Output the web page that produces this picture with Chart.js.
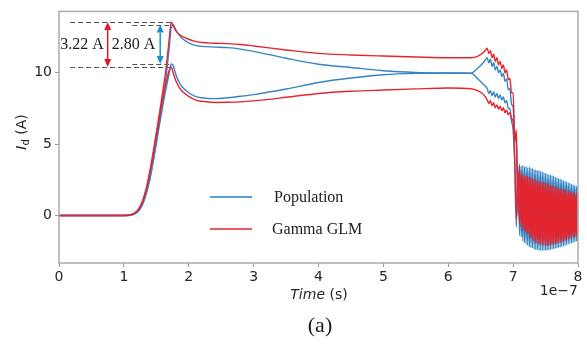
<!DOCTYPE html>
<html>
<head>
<meta charset="utf-8">
<script src="https://cdn.jsdelivr.net/npm/chart.js@4.4.1/dist/chart.umd.min.js"></script>
<style>
  html, body { margin: 0; padding: 0; background: #fff; }
  canvas { display: block; }
</style>
</head>
<body>
<canvas id="chart-id" width="587" height="347"></canvas>
<script>
// Tempo (unidades de 1e-7 s)
const tempo = [
  0, 0.5, 1.0, 1.1, 1.2, 1.25, 1.3, 1.35, 1.4, 1.45, 1.5, 1.55, 1.6, 1.65, 1.7, 1.73, 1.76, 1.8,
  1.85, 1.9, 2.0, 2.1, 2.2, 2.4, 2.6, 2.8, 3.0, 3.5, 4.0, 4.5, 5.0, 5.5, 6.0, 6.35, 6.45, 6.55,
  6.6, 6.625, 6.65, 6.675, 6.7, 6.725, 6.75, 6.775, 6.8, 6.825, 6.85, 6.875, 6.9, 6.925, 6.95, 6.975,
  7.0, 7.025, 7.05, 7.075, 7.1, 7.125, 7.15, 7.175, 7.2, 7.225, 7.25, 7.275, 7.3, 7.325, 7.35, 7.375,
  7.4, 7.425, 7.45, 7.475, 7.5, 7.525, 7.55, 7.575, 7.6, 7.625, 7.65, 7.675, 7.7, 7.725, 7.75, 7.775,
  7.8, 7.825, 7.85, 7.875, 7.9, 7.925, 7.95, 7.975, 8.0
];

// Population (azul): curva superior e inferior
const popSuperior = [
  0, 0, 0, 0.02, 0.22, 0.5, 0.95, 1.65, 2.6, 3.8, 5.2, 6.6, 8.1, 9.7, 11.8, 13.2, 13.38, 13.0,
  12.65, 12.4, 12.1, 11.92, 11.85, 11.8, 11.76, 11.66, 11.5, 11.02, 10.6, 10.37, 10.14, 10.02, 9.98, 9.97, 10.3, 10.75,
  11.05, 10.7, 10.95, 10.45, 10.7, 10.2, 10.45, 10.0, 10.2, 9.75, 9.95, 9.4, 9.55, 8.8, 8.9, 7.8,
  7.6, 5.5, 5.0, 0.0, 3.6, -1.5, 3.5, -1.9, 3.45, -2.1, 3.4, -2.25, 3.3, -2.35, 3.2, -2.4,
  3.15, -2.45, 3.05, -2.45, 2.95, -2.45, 2.85, -2.4, 2.8, -2.35, 2.7, -2.3, 2.6, -2.2, 2.5, -2.15,
  2.4, -2.05, 2.3, -1.95, 2.2, -1.9, 2.1, -1.8, 2.0
];
const popInferior = [
  0, 0, 0, 0.02, 0.2, 0.45, 0.9, 1.6, 2.5, 3.7, 5.0, 6.4, 7.7, 8.9, 10.0, 10.62, 10.5, 9.9,
  9.35, 9.0, 8.6, 8.35, 8.25, 8.19, 8.25, 8.35, 8.47, 8.86, 9.32, 9.63, 9.86, 9.96, 9.98, 9.97, 9.6, 9.15,
  8.9, 8.55, 8.75, 8.4, 8.65, 8.3, 8.55, 8.2, 8.45, 8.1, 8.3, 7.9, 8.05, 7.5, 7.5, 6.6,
  6.0, 3.5, -0.8, 3.5, -1.4, 3.45, -1.8, 3.4, -2.0, 3.35, -2.2, 3.3, -2.3, 3.2, -2.4, 3.15,
  -2.45, 3.1, -2.45, 3.0, -2.45, 2.9, -2.4, 2.85, -2.35, 2.75, -2.3, 2.65, -2.25, 2.55, -2.2, 2.45,
  -2.1, 2.35, -2.0, 2.25, -1.95, 2.15, -1.85, 2.05, -1.75
];

// Gamma GLM (vermelho): curva superior e inferior
const glmSuperior = [
  0, 0, 0, 0.03, 0.3, 0.65, 1.2, 2.0, 3.1, 4.4, 5.8, 7.2, 8.7, 10.3, 12.4, 13.55, 13.3, 12.95,
  12.7, 12.55, 12.35, 12.2, 12.12, 12.07, 12.04, 11.98, 11.88, 11.6, 11.36, 11.25, 11.17, 11.1, 11.05, 11.05, 11.15, 11.45,
  11.72, 11.35, 11.55, 11.05, 11.3, 10.8, 11.05, 10.55, 10.8, 10.3, 10.55, 10.0, 10.2, 9.5, 9.6, 8.6,
  8.6, 5.2, 6.0, 0.8, 3.4, -0.8, 2.9, -1.1, 2.8, -1.3, 2.7, -1.6, 2.6, -1.8, 2.5, -1.95,
  2.4, -2.0, 2.35, -2.05, 2.25, -2.1, 2.2, -2.05, 2.1, -2.0, 2.0, -1.95, 1.95, -1.9, 1.85, -1.8,
  1.8, -1.7, 1.7, -1.6, 1.65, -1.5, 1.6, -1.45, 1.5
];
const glmInferior = [
  0, 0, 0, 0.03, 0.28, 0.6, 1.1, 1.9, 2.95, 4.2, 5.6, 6.9, 8.2, 9.3, 10.2, 10.4, 10.0, 9.45,
  9.0, 8.7, 8.35, 8.1, 8.0, 7.92, 7.93, 7.96, 8.03, 8.28, 8.55, 8.7, 8.79, 8.87, 8.93, 8.88, 8.75, 8.45,
  8.1, 7.85, 8.05, 7.7, 7.9, 7.55, 7.75, 7.45, 7.65, 7.35, 7.55, 7.2, 7.4, 7.05, 7.2, 6.8,
  6.6, 4.0, -0.2, 3.0, -0.6, 2.85, -1.0, 2.8, -1.2, 2.75, -1.5, 2.65, -1.7, 2.55, -1.9, 2.45,
  -2.0, 2.4, -2.05, 2.3, -2.1, 2.25, -2.1, 2.15, -2.05, 2.05, -2.0, 2.0, -1.9, 1.9, -1.85, 1.85,
  -1.75, 1.75, -1.65, 1.7, -1.55, 1.6, -1.5, 1.55, -1.4
];

const xTicks = [0, 1, 2, 3, 4, 5, 6, 7, 8];
const yTicks = [0, 5, 10];
const legendas = ['Population', 'Gamma GLM'];
const rotulosDiferenca = ['3.22 A', '2.80 A'];

const AZUL = '#3585c6';
const VERMELHO = '#e3262f';

function pontos(valores) {
  return tempo.map((t, i) => ({ x: t, y: valores[i] }));
}

function serie(valores, cor, ordem) {
  return {
    data: pontos(valores),
    borderColor: cor,
    borderWidth: 1.4,
    pointRadius: 0,
    fill: false,
    cubicInterpolationMode: 'monotone',
    order: ordem
  };
}

// Setas de cota com duas pontas
function seta(ctx, px, yTopo, yBase, cor) {
  const cab = 8, larg = 3.5;
  ctx.strokeStyle = cor;
  ctx.fillStyle = cor;
  ctx.lineWidth = 1.5;
  ctx.beginPath();
  ctx.moveTo(px, yTopo + cab);
  ctx.lineTo(px, yBase - cab);
  ctx.stroke();
  ctx.beginPath();
  ctx.moveTo(px, yTopo);
  ctx.lineTo(px - larg, yTopo + cab);
  ctx.lineTo(px + larg, yTopo + cab);
  ctx.closePath();
  ctx.fill();
  ctx.beginPath();
  ctx.moveTo(px, yBase);
  ctx.lineTo(px - larg, yBase - cab);
  ctx.lineTo(px + larg, yBase - cab);
  ctx.closePath();
  ctx.fill();
}

const anotacoes = {
  id: 'anotacoes',
  beforeDatasetsDraw(chart) {
    const { ctx, scales: { x, y } } = chart;
    const picos = [
      { nivel: Math.max(...glmSuperior), de: 0.17, ate: 1.76 },
      { nivel: Math.max(...glmInferior), de: 0.17, ate: 1.76 },
      { nivel: Math.max(...popSuperior), de: 1.13, ate: 1.76 },
      { nivel: Math.max(...popInferior), de: 1.13, ate: 1.74 }
    ];
    ctx.save();
    ctx.strokeStyle = '#555';
    ctx.lineWidth = 1;
    ctx.setLineDash([5, 3]);
    picos.forEach(p => {
      const py = Math.round(y.getPixelForValue(p.nivel)) + 0.5;
      ctx.beginPath();
      ctx.moveTo(x.getPixelForValue(p.de), py);
      ctx.lineTo(x.getPixelForValue(p.ate), py);
      ctx.stroke();
    });
    ctx.restore();
  },
  afterDatasetsDraw(chart) {
    const { ctx, chartArea: a, scales: { x, y } } = chart;
    ctx.save();

    // Setas e rótulos de diferença
    seta(ctx, x.getPixelForValue(0.75),
      y.getPixelForValue(Math.max(...glmSuperior)), y.getPixelForValue(Math.max(...glmInferior)), '#e8141f');
    seta(ctx, x.getPixelForValue(1.56),
      y.getPixelForValue(Math.max(...popSuperior)), y.getPixelForValue(Math.max(...popInferior)), '#1b8ed6');
    ctx.fillStyle = '#1a1a1a';
    ctx.font = '16px "Liberation Serif"';
    ctx.textAlign = 'center';
    ctx.textBaseline = 'middle';
    ctx.fillText(rotulosDiferenca[0], 82, 45);
    ctx.fillText(rotulosDiferenca[1], 133.5, 45);

    // Legenda dentro da área do gráfico
    const coresLeg = ['#5b9fd6', '#ec5a60'];
    const yLeg = [197, 229];
    ctx.lineWidth = 2.2;
    ctx.textAlign = 'left';
    legendas.forEach((txt, i) => {
      ctx.strokeStyle = coresLeg[i];
      ctx.beginPath();
      ctx.moveTo(210, yLeg[i]);
      ctx.lineTo(252, yLeg[i]);
      ctx.stroke();
      ctx.fillStyle = '#222';
      ctx.fillText(txt, i === 0 ? 274 : 272, yLeg[i] + 1);
    });

    // Moldura
    ctx.strokeStyle = '#ababab';
    ctx.lineWidth = 1.5;
    ctx.strokeRect(a.left, a.top, a.right - a.left, a.bottom - a.top);
    ctx.restore();
  },
  afterDraw(chart) {
    const { ctx } = chart;
    ctx.save();
    ctx.fillStyle = '#262626';
    ctx.textBaseline = 'alphabetic';

    // Rótulo do eixo x: "Time (s)"
    ctx.font = 'italic 14px "DejaVu Sans"';
    const w1 = ctx.measureText('Time').width;
    ctx.font = '14px "DejaVu Sans"';
    const w2 = ctx.measureText(' (s)').width;
    let x0 = 319 - (w1 + w2) / 2;
    ctx.textAlign = 'left';
    ctx.font = 'italic 14px "DejaVu Sans"';
    ctx.fillText('Time', x0, 299);
    ctx.font = '14px "DejaVu Sans"';
    ctx.fillText(' (s)', x0 + w1, 299);

    // Fator de escala
    ctx.textAlign = 'right';
    ctx.fillText('1e\u22127', 578, 295);

    // Rótulo do eixo y: "I_d (A)"
    ctx.translate(26, 132);
    ctx.rotate(-Math.PI / 2);
    ctx.textAlign = 'left';
    ctx.font = 'italic 14px "DejaVu Sans"';
    const wi = ctx.measureText('I').width;
    ctx.font = '10px "DejaVu Sans"';
    const wd = ctx.measureText('d').width;
    ctx.font = '14px "DejaVu Sans"';
    const wa = ctx.measureText(' (A)').width;
    let s = -(wi + wd + wa) / 2;
    ctx.font = 'italic 14px "DejaVu Sans"';
    ctx.fillText('I', s, 0);
    ctx.font = '10px "DejaVu Sans"';
    ctx.fillText('d', s + wi, 3);
    ctx.font = '14px "DejaVu Sans"';
    ctx.fillText(' (A)', s + wi + wd, 0);
    ctx.setTransform(1, 0, 0, 1, 0, 0);

    // Legenda da figura
    ctx.textAlign = 'center';
    ctx.fillStyle = '#1a1a1a';
    ctx.font = '22px "Liberation Serif"';
    ctx.fillText('(a)', 320, 332);
    ctx.restore();
  }
};

const fonteTicks = { family: 'DejaVu Sans', size: 14 };

new Chart(document.getElementById('chart-id').getContext('2d'), {
  type: 'line',
  data: {
    datasets: [
      serie(glmSuperior, VERMELHO, 0),
      serie(glmInferior, VERMELHO, 0),
      serie(popSuperior, AZUL, 1),
      serie(popInferior, AZUL, 1)
    ]
  },
  options: {
    responsive: false,
    animation: false,
    devicePixelRatio: 1,
    parsing: false,
    layout: { padding: { top: 10, right: 9, left: 0, bottom: 0 } },
    plugins: { legend: { display: false }, tooltip: { enabled: false } },
    scales: {
      x: {
        type: 'linear',
        min: 0,
        max: 8,
        afterBuildTicks: s => { s.ticks = xTicks.map(v => ({ value: v })); },
        afterFit: s => { s.height = 84; },
        ticks: { color: '#262626', font: fonteTicks, padding: 2, maxRotation: 0 },
        grid: { drawOnChartArea: false, tickLength: 4, color: '#9a9a9a' },
        border: { display: false }
      },
      y: {
        type: 'linear',
        min: -3.33,
        max: 14.3,
        afterBuildTicks: s => { s.ticks = yTicks.map(v => ({ value: v })); },
        afterFit: s => { s.width = 59; },
        ticks: { color: '#262626', font: fonteTicks, padding: 3 },
        grid: { drawOnChartArea: false, tickLength: 4, color: '#9a9a9a' },
        border: { display: false }
      }
    }
  },
  plugins: [anotacoes]
});
</script>
</body>
</html>
